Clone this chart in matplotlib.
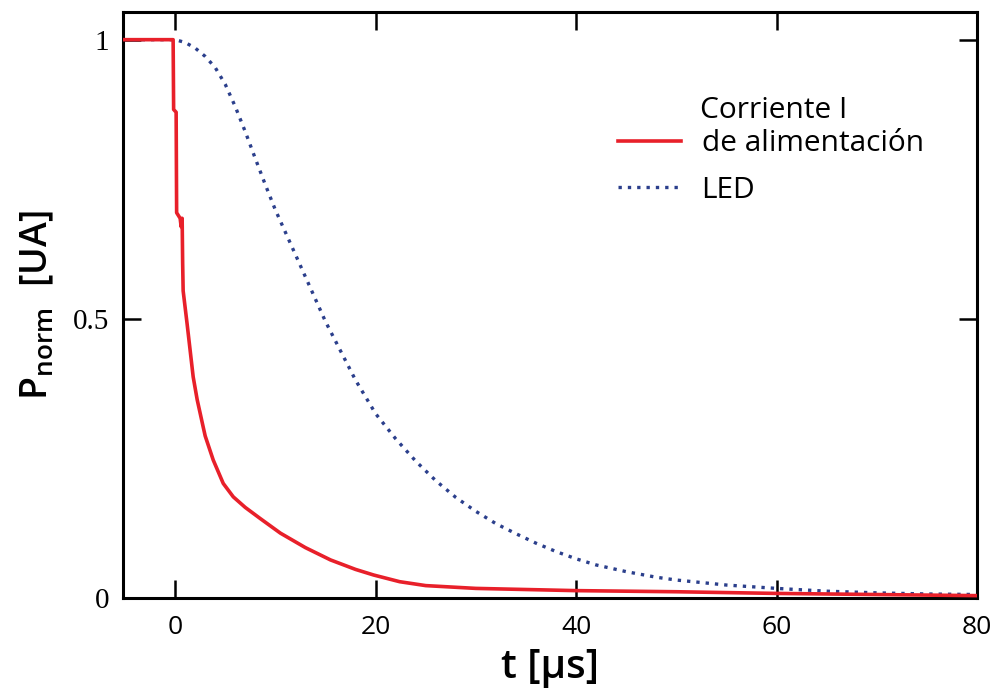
import numpy as np
import matplotlib.pyplot as plt
from matplotlib.ticker import FixedLocator

# puntos: corriente de alimentacion
t_corr = [-5.2, -2, -0.2, -0.15, 0.1, 0.15, 0.5, 0.6, 0.7, 0.75, 0.8, 1.2, 1.8, 2.2, 2.8,
          3.0, 3.8, 4.8, 5.8, 7.0, 8.5, 10.5, 13, 15.5, 18, 19.8, 22.4, 25, 30, 35, 40,
          50, 60, 70, 80]
p_corr = [1.0, 1.0, 1.0, 0.875, 0.87, 0.69, 0.68, 0.665, 0.68, 0.60, 0.55, 0.49, 0.396,
          0.355, 0.306, 0.29, 0.247, 0.205, 0.181, 0.162, 0.142, 0.116, 0.090, 0.068,
          0.051, 0.041, 0.029, 0.022, 0.017, 0.015, 0.013, 0.011, 0.008, 0.006, 0.004]

# LED
t_led = [-5.2, -2, 0, 1, 2, 3, 4, 5, 6, 7, 8, 9, 10, 11, 12, 13, 14, 15, 16, 17, 18, 19, 20,
         22, 24, 26, 28, 30, 32, 34, 36, 38, 40, 42, 45, 48, 50, 55, 60, 65, 70, 75, 80]
p_led = [1.0, 1.0, 1.0, 0.995, 0.985, 0.97, 0.95, 0.92, 0.88, 0.835, 0.787, 0.74, 0.695,
         0.655, 0.615, 0.575, 0.535, 0.495, 0.46, 0.425, 0.39, 0.36, 0.33, 0.285, 0.245,
         0.21, 0.18, 0.155, 0.133, 0.115, 0.098, 0.083, 0.070, 0.059, 0.047, 0.037, 0.032,
         0.023, 0.017, 0.012, 0.009, 0.007, 0.006]

x_ticks = [0, 20, 40, 60, 80]
y_ticks = [0, 0.5, 1]
y_tick_labels = ["0", "0.5", "1"]

fig = plt.figure(figsize=(9.96, 6.92), dpi=100)
ax = fig.add_axes([0.1235, 0.136, 0.8575, 0.847])

ax.plot(t_corr, p_corr, color="#e8202a", lw=2.6, label="de alimentación", zorder=3)
ax.plot(t_led, p_led, color="#2b3f8c", lw=2.4, ls=(0, (1, 1.8)), label="LED", zorder=2)

ax.set_xlim(-5.2, 80)
ax.set_ylim(0, 1.05)
ax.xaxis.set_major_locator(FixedLocator(x_ticks))
ax.yaxis.set_major_locator(FixedLocator(y_ticks))
ax.set_yticklabels(y_tick_labels)
ax.tick_params(direction="in", length=13, width=1.8, top=True, right=True)
ax.tick_params(axis="x", labelsize=19, labelfontfamily="Open Sans", pad=12)
ax.tick_params(axis="y", labelsize=21, labelfontfamily="Liberation Serif", pad=10)
for sp in ax.spines.values():
    sp.set_linewidth(2.2)

ax.set_xlabel("t [μs]", fontsize=29, family="Open Sans", weight="semibold", labelpad=6)
ax.set_ylabel(r"P$_{\mathregular{norm}}$  [UA]", fontsize=27, family="Open Sans",
              weight="semibold", labelpad=12)

leg = ax.legend(loc="upper left", bbox_to_anchor=(0.548, 0.845), frameon=False,
                prop={"family": "Open Sans", "size": 21.5}, handlelength=2.1,
                handletextpad=0.7, labelspacing=0.58)
ax.text(0.676, 0.819, "Corriente I", transform=ax.transAxes, fontsize=21.5,
        family="Open Sans", va="baseline")

fig.savefig("out.png", dpi=100)
